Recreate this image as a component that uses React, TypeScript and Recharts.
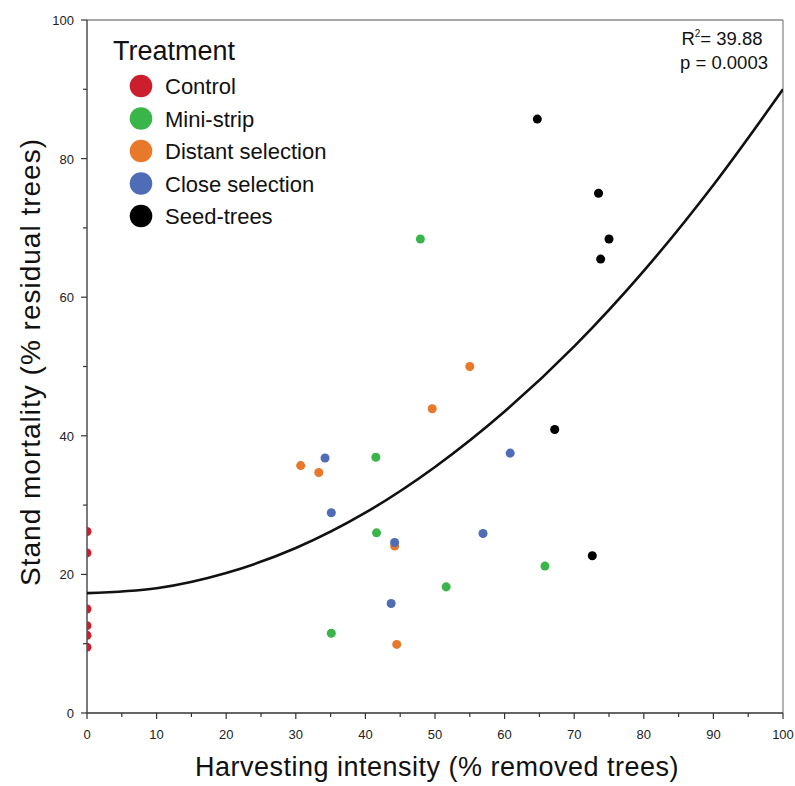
import {
  ComposedChart,
  Scatter,
  XAxis,
  YAxis,
  ReferenceLine,
  Legend,
  Label,
  Customized,
} from 'recharts';

const FONT = '"Liberation Sans", Arial, sans-serif';

// x = harvesting intensity (%), y = stand mortality (%)
const control = [
  { x: 0, y: 26.2 },
  { x: 0, y: 23.1 },
  { x: 0, y: 15.0 },
  { x: 0, y: 12.6 },
  { x: 0, y: 11.2 },
  { x: 0, y: 9.5 },
];
const miniStrip = [
  { x: 47.9, y: 68.4 },
  { x: 41.5, y: 36.9 },
  { x: 41.6, y: 26.0 },
  { x: 65.8, y: 21.2 },
  { x: 51.6, y: 18.2 },
  { x: 35.1, y: 11.5 },
];
const distantSelection = [
  { x: 55.0, y: 50.0 },
  { x: 49.6, y: 43.9 },
  { x: 30.7, y: 35.7 },
  { x: 33.3, y: 34.7 },
  { x: 44.2, y: 24.1 },
  { x: 44.5, y: 9.9 },
];
const closeSelection = [
  { x: 34.2, y: 36.8 },
  { x: 60.8, y: 37.5 },
  { x: 35.1, y: 28.9 },
  { x: 44.2, y: 24.6 },
  { x: 56.9, y: 25.9 },
  { x: 43.7, y: 15.8 },
];
const seedTrees = [
  { x: 64.7, y: 85.7 },
  { x: 73.5, y: 75.0 },
  { x: 75.0, y: 68.4 },
  { x: 73.8, y: 65.5 },
  { x: 67.2, y: 40.9 },
  { x: 72.6, y: 22.7 },
];

// fitted curve, sampled from the figure
const fitX = [0, 10, 20, 30, 40, 50, 60, 70, 80, 90, 100];
const fitY = [17.3, 18.0, 20.2, 23.8, 28.9, 35.5, 43.5, 52.9, 63.8, 76.2, 90.0];
const fitCurve = fitX.map((x, i) => ({ x, y: fitY[i] }));

const xTicks = [0, 5, 10, 15, 20, 25, 30, 35, 40, 45, 50, 55, 60, 65, 70, 75, 80, 85, 90, 95, 100];
const yTicks = [0, 10, 20, 30, 40, 50, 60, 70, 80, 90, 100];

const series = [
  { name: 'Control', data: control, color: '#CC1F2E' },
  { name: 'Mini-strip', data: miniStrip, color: '#39B54A' },
  { name: 'Distant selection', data: distantSelection, color: '#E8792B' },
  { name: 'Close selection', data: closeSelection, color: '#4E6DB6' },
  { name: 'Seed-trees', data: seedTrees, color: '#000000' },
];

const XTick = (props: any) => {
  const { x, y, payload } = props;
  const major = payload.value % 10 === 0;
  const top = y - 6;
  return (
    <g>
      <line x1={x} x2={x} y1={top} y2={top + (major ? 6 : 4)} stroke="#333" strokeWidth={1.2} />
      {major && (
        <text x={x} y={top + 26} textAnchor="middle" fontSize={13} fontFamily={FONT} fill="#222">
          {payload.value}
        </text>
      )}
    </g>
  );
};

const YTick = (props: any) => {
  const { x, y, payload } = props;
  const major = payload.value % 20 === 0;
  const right = x + 6;
  return (
    <g>
      <line x1={right - (major ? 6 : 4)} x2={right} y1={y} y2={y} stroke="#333" strokeWidth={1.2} />
      {major && (
        <text x={right - 13} y={y + 5} textAnchor="end" fontSize={13} fontFamily={FONT} fill="#222">
          {payload.value}
        </text>
      )}
    </g>
  );
};

const LegendBox = () => (
  <svg width={260} height={215} style={{ display: 'block' }}>
    <text x={13} y={40} fontSize={27} fontFamily={FONT} fill="#111">
      Treatment
    </text>
    {series.map((s, i) => {
      const cy = 66 + i * 32.5;
      return (
        <g key={s.name}>
          <circle cx={41} cy={cy} r={11.3} fill={s.color} />
          <text x={65} y={cy + 8} fontSize={22} fontFamily={FONT} fill="#111">
            {s.name}
          </text>
        </g>
      );
    })}
  </svg>
);

const Stats = () => (
  <g fontFamily={FONT} fontSize={18.5} fill="#111">
    <text x={722} y={45} textAnchor="middle">
      R<tspan fontSize={10} dy={-8}>2</tspan>
      <tspan dy={8}>= 39.88</tspan>
    </text>
    <text x={724} y={69} textAnchor="middle">
      p = 0.0003
    </text>
  </g>
);

export default function App() {
  return (
    <div style={{ position: 'absolute', left: 0, top: 0, background: '#fff' }}>
      <ComposedChart width={795} height={786} margin={{ top: 20, right: 12, bottom: 0, left: 0 }}>
        <XAxis
          type="number"
          dataKey="x"
          domain={[0, 100]}
          ticks={xTicks}
          interval={0}
          height={73}
          tickSize={6}
          tickMargin={0}
          tickLine={false}
          tick={<XTick />}
          axisLine={{ stroke: '#333', strokeWidth: 1.3 }}
          allowDataOverflow
        >
          <Label
            content={({ viewBox }: any) => (
              <text
                x={viewBox.x + viewBox.width / 2 + 2}
                y={viewBox.y + 63}
                textAnchor="middle"
                fontSize={27}
                letterSpacing={0.5}
                fontFamily={FONT}
                fill="#111"
              >
                Harvesting intensity (% removed trees)
              </text>
            )}
          />
        </XAxis>
        <YAxis
          type="number"
          dataKey="y"
          domain={[0, 100]}
          ticks={yTicks}
          interval={0}
          width={87}
          tickSize={6}
          tickMargin={0}
          tickLine={false}
          tick={<YTick />}
          axisLine={{ stroke: '#333', strokeWidth: 1.3 }}
          allowDataOverflow
        >
          <Label
            content={({ viewBox }: any) => {
              const cx = viewBox.x + 40;
              const cy = 362;
              return (
                <text
                  x={cx}
                  y={cy}
                  transform={`rotate(-90 ${cx} ${cy})`}
                  textAnchor="middle"
                  fontSize={28}
                  letterSpacing={1}
                  fontFamily={FONT}
                  fill="#111"
                >
                  Stand mortality (% residual trees)
                </text>
              );
            }}
          />
        </YAxis>
        <ReferenceLine y={100} stroke="#8a8a8a" strokeWidth={1.3} />
        <ReferenceLine x={100} stroke="#8a8a8a" strokeWidth={1.3} />
        <Scatter
          name="fit"
          data={fitCurve}
          legendType="none"
          line={{ stroke: '#111', strokeWidth: 2.6 }}
          lineJointType="monotoneX"
          shape={() => <g />}
          isAnimationActive={false}
        />
        {series.map((s) => (
          <Scatter
            key={s.name}
            name={s.name}
            data={s.data}
            fill={s.color}
            isAnimationActive={false}
          />
        ))}
        <Legend
          layout="vertical"
          align="center"
          verticalAlign="middle"
          wrapperStyle={{ left: 100, top: 20, width: 260 }}
          content={<LegendBox />}
        />
        <Customized component={Stats} />
      </ComposedChart>
    </div>
  );
}
